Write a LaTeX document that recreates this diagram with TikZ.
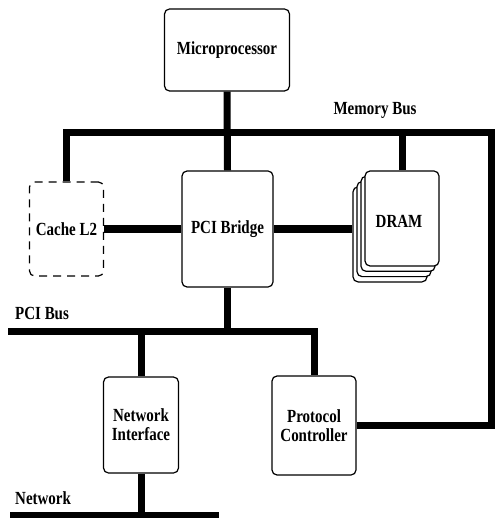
\documentclass[tikz,border=0pt]{standalone}
\usepackage{fontspec}
\setmainfont{Liberation Serif}[FakeStretch=0.81]
\begin{document}
\begin{tikzpicture}[x=1pt,y=-1pt,
  lbl/.style={font=\fontsize{18.5}{19}\selectfont\bfseries, inner sep=0pt, align=center},
  box/.style={lbl, draw, line width=1.2pt, rounded corners=5pt, fill=white},
  dbox/.style={box, dash pattern=on 8pt off 6pt},
  bus/.style={line width=7pt, line cap=butt, line join=miter}]
\useasboundingbox (0,0) rectangle (495,518);

% components
\node[box, minimum width=125pt, minimum height=82pt] (mp) at (227,50) {Microprocessor};
\node[dbox, minimum width=74pt, minimum height=94pt] (cache) at (66.5,229) {Cache L2};
\node[box, minimum width=91pt, minimum height=116pt] (br) at (227.5,229) {PCI Bridge};

% stacked DRAM modules, back to front
\node[box, minimum width=74pt, minimum height=95pt] (d3) at (390,234.4) {};
\node[box, minimum width=74pt, minimum height=95pt] (d2) at (394,229.1) {};
\node[box, minimum width=74pt, minimum height=95pt] (d1) at (398,223.8) {};
\node[box, minimum width=74pt, minimum height=95pt] (dram) at (402,218.5) {};
\node[lbl] at (399,221) {DRAM};

\node[box, minimum width=75pt, minimum height=96pt, text width=70pt] (ni) at (141,425) {Network\\Interface};
\node[box, minimum width=84pt, minimum height=99pt, text width=80pt] (pc) at (314,425.5) {Protocol\\Controller};

% bus labels
\node[lbl] (lmem) at (375,110) {Memory Bus};
\node[lbl, anchor=west] (lpci) at (15,313) {PCI Bus};
\node[lbl, anchor=west] (lnet) at (15,498) {Network};

% bus end points
\coordinate (mbL) at (66.5,133);
\coordinate (mbR) at (491.5,133);
\coordinate (pciL) at (8,331);
\coordinate (netL) at (10,515);
\coordinate (netR) at (219,515);

% memory bus
\draw[bus] (cache.north) -- (mbL) -- (mbR) -- (mbR |- pc.east) -- (pc.east);
\draw[bus] (mp.south) -- (br.north);
\draw[bus] (dram.north) -- (dram.north |- mbL);
\draw[bus] (cache.east) -- (br.west);
\draw[bus] (br.east) -- (br.east -| d3.west);

% PCI bus
\draw[bus] (pciL) -- (pciL -| pc.north) -- (pc.north);
\draw[bus] (br.south) -- (br.south |- pciL);
\draw[bus] (ni.north) -- (ni.north |- pciL);

% network
\draw[bus] (netL) -- (netR);
\draw[bus] (ni.south) -- (ni.south |- netL);
\end{tikzpicture}
\end{document}
